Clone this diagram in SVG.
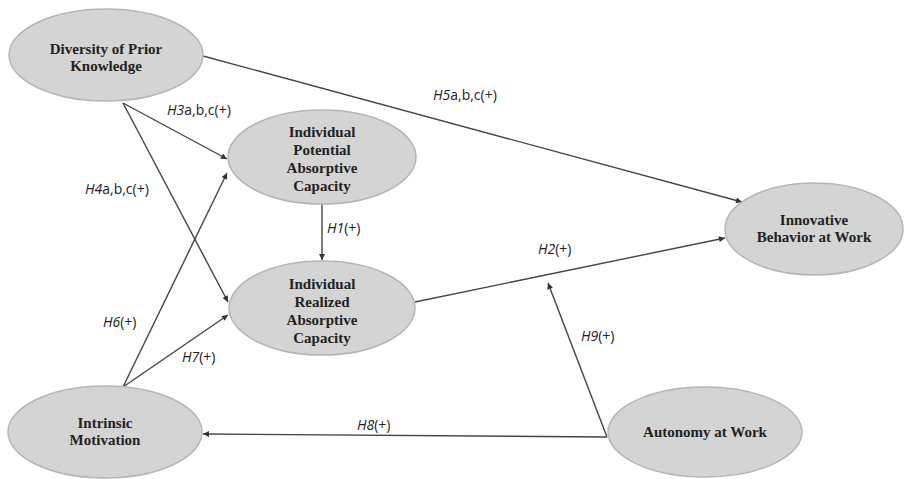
<svg xmlns="http://www.w3.org/2000/svg" width="906" height="479" viewBox="0 0 906 479">
<defs>
<marker id="arr" viewBox="0 0 10 10" refX="10" refY="5" markerWidth="8" markerHeight="6" markerUnits="userSpaceOnUse" orient="auto">
<path d="M0,0 L10,5 L0,10 z" fill="#333"/>
</marker>
<style>
.node ellipse{fill:#d4d4d4;stroke:#b5b5b5;stroke-width:1.5}
.node text{font-family:"Liberation Serif","Times New Roman",serif;font-weight:bold;font-size:15px;fill:#222;text-anchor:middle}
.edges line{stroke:#444;stroke-width:1.4;fill:none}
.edges .a{marker-end:url(#arr)}
.lbl{font-family:"Open Sans","Liberation Sans",sans-serif;font-size:14px;fill:#222}
.lbl tspan.i{font-style:italic}
</style>
</defs>
<rect width="906" height="479" fill="#ffffff"/>

<g class="edges" id="connectors">
<line class="a" x1="203" y1="56" x2="742" y2="202"/>
<line class="a" x1="123" y1="103" x2="227" y2="159"/>
<line class="a" x1="123" y1="103" x2="228" y2="302"/>
<line class="a" x1="123" y1="387" x2="227" y2="173"/>
<line class="a" x1="123" y1="387" x2="228" y2="315"/>
<line class="a" x1="322" y1="204" x2="322" y2="260"/>
<line class="a" x1="415" y1="302" x2="725" y2="238"/>
<line class="a" x1="607" y1="437" x2="548" y2="283"/>
<line class="a" x1="607" y1="437" x2="203" y2="434"/>
</g>

<g id="labels">
<text class="lbl" x="433" y="100"><tspan class="i">H5</tspan>a,b,c(+)</text>
<text class="lbl" x="167" y="115"><tspan class="i">H3</tspan>a,b,c(+)</text>
<text class="lbl" x="85" y="194"><tspan class="i">H4</tspan>a,b,c(+)</text>
<text class="lbl" x="327" y="233"><tspan class="i">H1</tspan>(+)</text>
<text class="lbl" x="103" y="327"><tspan class="i">H6</tspan>(+)</text>
<text class="lbl" x="182" y="362"><tspan class="i">H7</tspan>(+)</text>
<text class="lbl" x="357" y="430"><tspan class="i">H8</tspan>(+)</text>
<text class="lbl" x="538" y="254"><tspan class="i">H2</tspan>(+)</text>
<text class="lbl" x="581" y="341"><tspan class="i">H9</tspan>(+)</text>
</g>

<g class="node" id="diversity">
<ellipse cx="106" cy="55" rx="97" ry="46"/>
<text x="106" y="54">Diversity of Prior</text>
<text x="106" y="71">Knowledge</text>
</g>
<g class="node" id="potential">
<ellipse cx="322" cy="157" rx="94" ry="47"/>
<text x="322" y="137">Individual</text>
<text x="322" y="155">Potential</text>
<text x="322" y="173">Absorptive</text>
<text x="322" y="191">Capacity</text>
</g>
<g class="node" id="realized">
<ellipse cx="322" cy="308" rx="93" ry="47"/>
<text x="322" y="289">Individual</text>
<text x="322" y="307">Realized</text>
<text x="322" y="325">Absorptive</text>
<text x="322" y="343">Capacity</text>
</g>
<g class="node" id="innovative">
<ellipse cx="814" cy="229" rx="89" ry="46"/>
<text x="814" y="225">Innovative</text>
<text x="814" y="242">Behavior at Work</text>
</g>
<g class="node" id="intrinsic">
<ellipse cx="105" cy="432" rx="97" ry="46"/>
<text x="105" y="428">Intrinsic</text>
<text x="105" y="445">Motivation</text>
</g>
<g class="node" id="autonomy">
<ellipse cx="705" cy="432" rx="97" ry="45"/>
<text x="705" y="437">Autonomy at Work</text>
</g>
</svg>
